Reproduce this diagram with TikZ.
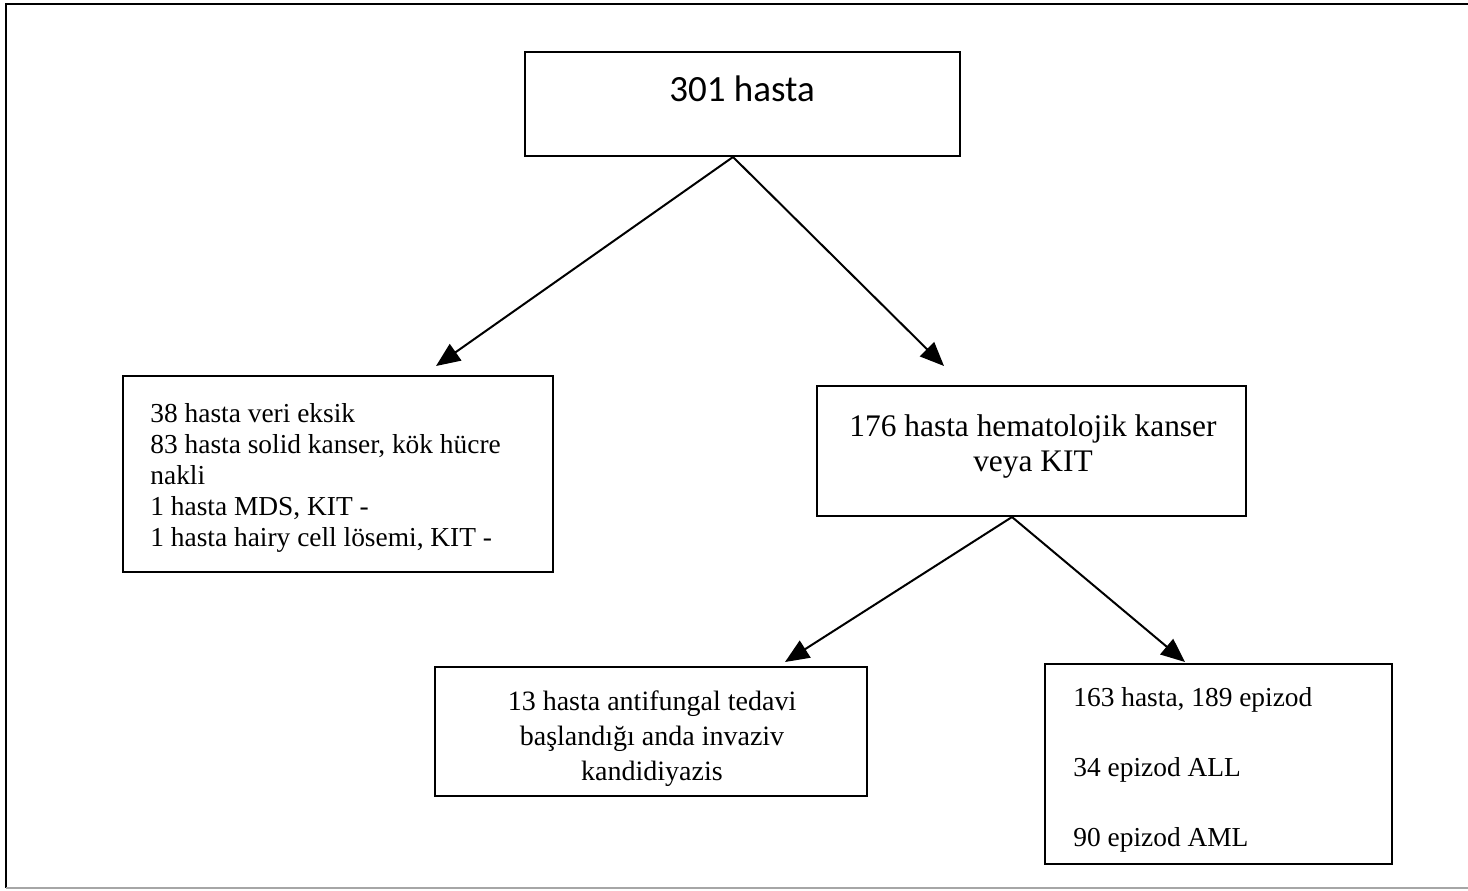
\documentclass[tikz,border=0pt]{standalone}
\usepackage{fontspec}
\setmainfont{Liberation Serif}
\newfontfamily\calibri{Carlito}
\usetikzlibrary{arrows.meta}

\tikzset{
	kutu/.style={draw, line width=1pt, inner sep=0pt},
	yazi/.style={inner sep=0pt, font=\fontsize{13.7}{15.5}\selectfont},
	ok/.style={-{Triangle[length=12pt, width=10pt]}, line width=1pt}
}

\begin{document}
\begin{tikzpicture}[x=0.5pt, y=-0.5pt]
	\useasboundingbox (0,0) rectangle (1468,890);

	\draw
		[line width=1.2pt] (1468,4) -- (6,4) -- (6,888);

	\draw
		[line width=1pt, gray!70] (6,888) -- (1468,888);

	\node (ust) at (742.5,104) [kutu, minimum width=217.5pt, minimum height=52pt] {};

	\node (sol) at (338,474) [kutu, minimum width=215pt, minimum height=98pt] {};

	\node (sag) at (1031.5,451) [kutu, minimum width=214.5pt, minimum height=65pt] {};

	\node (altsol) at (651,731.5) [kutu, minimum width=216pt, minimum height=64.5pt] {};

	\node (altsag) at (1218.5,764) [kutu, minimum width=173.5pt, minimum height=100pt] {};

	\node (ustyazi) at (742,89) [inner sep=0pt, font=\calibri\fontsize{18.5}{22}\selectfont] {301 hasta};

	\node (solyazi) at (150,403) [yazi, anchor=north west, align=left]
		{38 hasta veri eksik\\83 hasta solid kanser, kök hücre\\nakli\\1 hasta MDS, KIT -\\1 hasta hairy cell lösemi, KIT -};

	\node (sagyazi) at (1033,414) [yazi, anchor=north, align=center, font=\fontsize{15.7}{17.5}\selectfont]
		{176 hasta hematolojik kanser\\veya KIT};

	\node (altsolyazi) at (652,690) [yazi, anchor=north, align=center, font=\fontsize{14}{17.5}\selectfont]
		{13 hasta antifungal tedavi\\başlandığı anda invaziv\\kandidiyazis};

	\node (altsagyazi) at (1073,687) [yazi, anchor=north west, align=left, font=\fontsize{13.7}{17.5}\selectfont]
		{163 hasta, 189 epizod\\[17.5pt]34 epizod ALL\\[17.5pt]90 epizod AML};

	\draw
		[ok] ([xshift=-4.75pt]ust.south) -- ([xshift=49pt, yshift=4.5pt]sol.north);

	\draw
		[ok] ([xshift=-4.75pt]ust.south) -- ([xshift=-43.75pt, yshift=9.5pt]sag.north);

	\draw
		[ok] ([xshift=-9.75pt]sag.south) -- ([xshift=67pt, yshift=2pt]altsol.north);

	\draw
		[ok] ([xshift=-9.75pt]sag.south) -- ([xshift=-16.75pt, yshift=0.5pt]altsag.north);

\end{tikzpicture}
\end{document}
